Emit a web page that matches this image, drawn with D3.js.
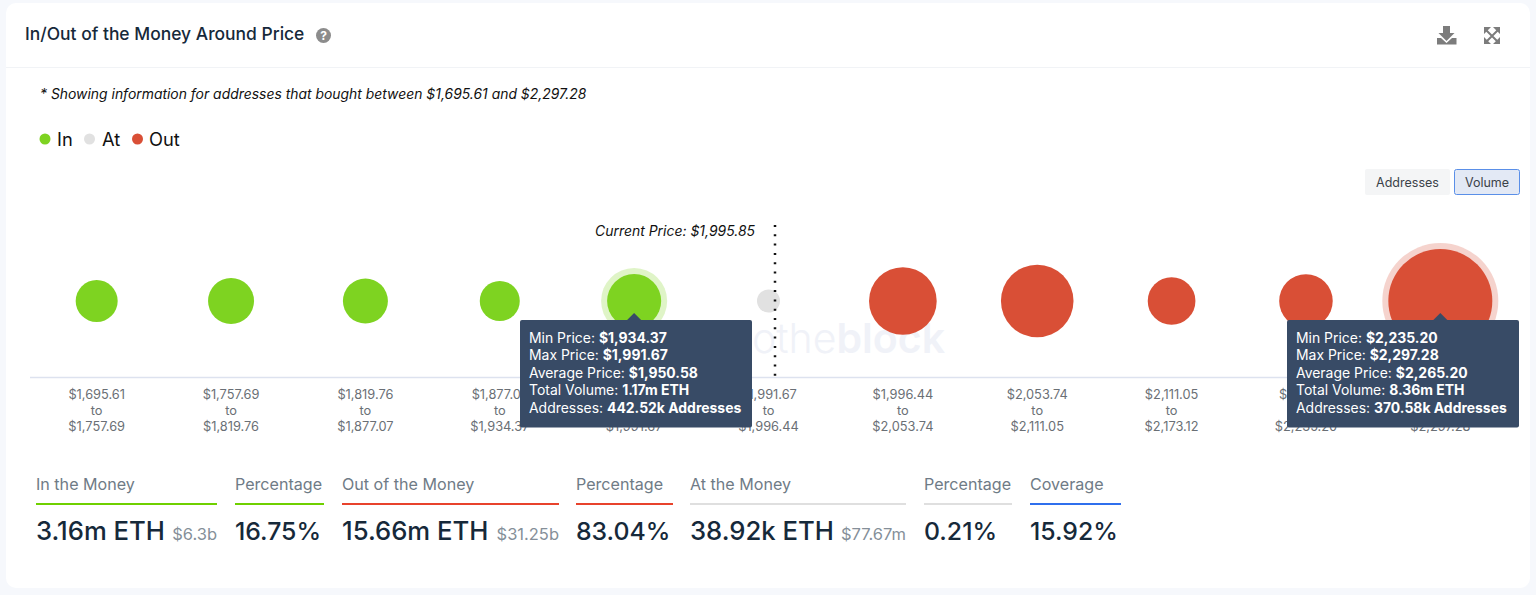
<!DOCTYPE html>
<html><head><meta charset="utf-8">
<script src="https://cdnjs.cloudflare.com/ajax/libs/d3/7.8.5/d3.min.js"></script>
<style>html,body{margin:0;padding:0;background:#f6f8fc;overflow:hidden}svg{display:block}text{font-family:Inter,"Noto Sans",sans-serif}</style>
</head><body><svg id="c" width="1536" height="595"></svg>
<script>
const binLow=["$1,695.61","$1,757.69","$1,819.76","$1,877.07","$1,934.37","$1,991.67","$1,996.44","$2,053.74","$2,111.05","$2,173.12","$2,235.20"];
const binHigh=["$1,757.69","$1,819.76","$1,877.07","$1,934.37","$1,991.67","$1,996.44","$2,053.74","$2,111.05","$2,173.12","$2,235.20","$2,297.28"];
const volumes=[0.445,0.643,0.59,0.361,1.17,0.0389,2.45,3.03,0.74,1.13,8.36];
const status=["In","In","In","In","In","At","Out","Out","Out","Out","Out"];
const legendItems=["In","At","Out"];
const colors={In:"#7ed321",At:"#e1e1e1",Out:"#d94f36"};
const tipKeys=["Min Price: ","Max Price: ","Average Price: ","Total Volume: ","Addresses: "];
const tipA=["$1,934.37","$1,991.67","$1,950.58","1.17m ETH","442.52k Addresses"];
const tipB=["$2,235.20","$2,297.28","$2,265.20","8.36m ETH","370.58k Addresses"];
const statLabels=["In the Money","Percentage","Out of the Money","Percentage","At the Money","Percentage","Coverage"];
const statValues=["3.16m ETH","16.75%","15.66m ETH","83.04%","38.92k ETH","0.21%","15.92%"];
const statSubs=["$6.3b","","$31.25b","","$77.67m","",""];
const statColors=["#6fd000","#6fd000","#e8432c","#e8432c","#dfdfdf","#dfdfdf","#2f6fed"];
const statX=[[36,217],[235,324],[342,559],[576,673],[690,906],[924,1012],[1030,1121]];

const svg=d3.select("#c");
const ink="#16293a";
// card
svg.append("rect").attr("x",6).attr("y",3).attr("width",1524).attr("height",585).attr("rx",10).attr("fill","#fff");
svg.append("line").attr("x1",6).attr("x2",1530).attr("y1",67.5).attr("y2",67.5).attr("stroke","#f1f3f6");
svg.append("text").attr("x",25).attr("y",39.5).attr("font-size",17.45).attr("font-weight",500).attr("fill",ink).text("In/Out of the Money Around Price");
// help icon
svg.append("circle").attr("cx",323.5).attr("cy",35.5).attr("r",7.5).attr("fill","#8c8c8c");
svg.append("text").attr("x",323.5).attr("y",40).attr("text-anchor","middle").attr("font-size",12).attr("font-weight",700).attr("fill","#fff").text("?");
// download icon
svg.append("path").attr("fill","#7c7c7c").attr("d","M1443 26h7v7h4.5l-8 8-8-8h4.5zM1437 38h4l5.5 5 5.500-5h4.500v6.500h-19.500z");
// expand icon
svg.append("path").attr("fill","none").attr("stroke","#7c7c7c").attr("stroke-width",2).attr("d","M1486 30l12 12M1498 30l-12 12");
svg.append("path").attr("fill","#7c7c7c").attr("d","M1484 27h7l-7 7zM1500 27v7l-7-7zM1484 44v-7l7 7zM1500 44h-7l7-7z");
// note and legend
svg.append("text").attr("x",40).attr("y",99).attr("font-size",13.92).attr("font-style","italic").attr("fill","#111").text("* Showing information for addresses that bought between $1,695.61 and $2,297.28");
const legX=[[45,57],[89.500,102],[137.500,149]];
legendItems.forEach((k,i)=>{
  svg.append("circle").attr("cx",legX[i][0]).attr("cy",139).attr("r",5.5).attr("fill",colors[k]);
  svg.append("text").attr("x",legX[i][1]).attr("y",145.500).attr("font-size",18.3).attr("fill","#111").text(k);
});
// buttons
svg.append("rect").attr("x",1365).attr("y",169).attr("width",85).attr("height",26).attr("rx",2).attr("fill","#f4f5f6");
svg.append("text").attr("x",1407.5).attr("y",186.500).attr("text-anchor","middle").attr("font-size",12.500).attr("fill","#3b4249").text("Addresses");
svg.append("rect").attr("x",1454.5).attr("y",169.5).attr("width",65).attr("height",25).attr("rx",2).attr("fill","#e3e9f5").attr("stroke","#5a8fe8");
svg.append("text").attr("x",1487).attr("y",186.500).attr("text-anchor","middle").attr("font-size",12.500).attr("fill","#3b4249").text("Volume");
// watermark
const wm=svg.append("text").attr("x",945).attr("y",353).attr("text-anchor","end").attr("font-size",41).attr("fill","#f0f2f8");
wm.append("tspan").attr("font-weight",300).text("intothe");
wm.append("tspan").attr("font-weight",600).text("block");

// scales
const x=d3.scaleBand().domain(d3.range(binLow.length)).range([29.5,1507.5]);
const vMin=d3.min(volumes), vMax=d3.max(volumes);
const rScale=d3.scalePow().exponent(0.48).domain([0,vMax-vMin]).range([11.5,52]);
const r=v=>rScale(v-vMin);
const cy=301, axisY=377;
const cx=i=>x(i)+x.bandwidth()/2;

// axis
const axis=d3.axisBottom(x).tickSize(0).tickPadding(0).tickFormat(()=>"");
const ax=svg.append("g").attr("transform",`translate(0,${axisY})`).call(axis);
ax.select(".domain").attr("stroke","#dde2ef").attr("stroke-width",1.5);
ax.selectAll(".tick").each(function(d){
  const t=d3.select(this).select("text").attr("y",0).attr("dy",null).attr("font-size",12.8).attr("fill","#6a6f75").attr("text-anchor","middle").attr("font-family","Inter");
  [binLow[d],"to",binHigh[d]].forEach((s,j)=>t.append("tspan").attr("x",0).attr("y",21.5+j*16).text(s));
});

// bubbles
const halo=new Set([4,10]);
svg.append("g").selectAll("circle").data(volumes.map((v,i)=>i).filter(i=>halo.has(i))).join("circle")
  .attr("cx",cx).attr("cy",cy).attr("r",i=>r(volumes[i])+6).attr("fill",i=>colors[status[i]]).attr("opacity",.25);
svg.append("g").selectAll("circle").data(volumes).join("circle")
  .attr("cx",(d,i)=>cx(i)).attr("cy",cy).attr("r",d=>r(d)).attr("fill",(d,i)=>colors[status[i]]);

// current price
const curX=cx(5)+6.5;
svg.append("line").attr("x1",curX).attr("x2",curX).attr("y1",225).attr("y2",376).attr("stroke","#111").attr("stroke-width",2.5).attr("stroke-dasharray","2 7.3");
svg.append("text").attr("x",755).attr("y",236).attr("text-anchor","end").attr("font-size",13.95).attr("font-style","italic").attr("fill","#111").text("Current Price: $1,995.85");

// tooltips
function tip(i,vals,left){
  const g=svg.append("g");
  const c=cx(i);
  g.append("rect").attr("x",left).attr("y",320).attr("width",232).attr("height",107.5).attr("rx",2).attr("fill","#384b66");
  g.append("path").attr("fill","#384b66").attr("d",`M${c-8} 321L${c} 313L${c+8} 321Z`);
  vals.forEach((v,j)=>{
    const t=g.append("text").attr("x",left+9).attr("y",342.500+j*17.5).attr("font-size",13.95).attr("fill","#fff");
    t.append("tspan").text(tipKeys[j]);
    t.append("tspan").attr("font-weight",700).text(v);
  });
}
tip(4,tipA,520);
tip(10,tipB,1287);

// stats
statLabels.forEach((l,i)=>{
  const [a,b]=statX[i];
  const hasUnit=statSubs[i]!=="";
  svg.append("text").attr("x",a).attr("y",490).attr("font-size",16.1).attr("fill","#6f7b86").text(l);
  svg.append("line").attr("x1",a).attr("x2",b).attr("y1",504).attr("y2",504).attr("stroke",statColors[i]).attr("stroke-width",2);
  svg.append("text").attr("x",a).attr("y",540).attr("font-size",hasUnit?25.7:24.8).attr("font-weight",500).attr("fill",ink).text(statValues[i]);
  if(hasUnit) svg.append("text").attr("x",b).attr("y",540).attr("text-anchor","end").attr("font-size",16.5).attr("fill","#858f99").text(statSubs[i]);
});
</script></body></html>
